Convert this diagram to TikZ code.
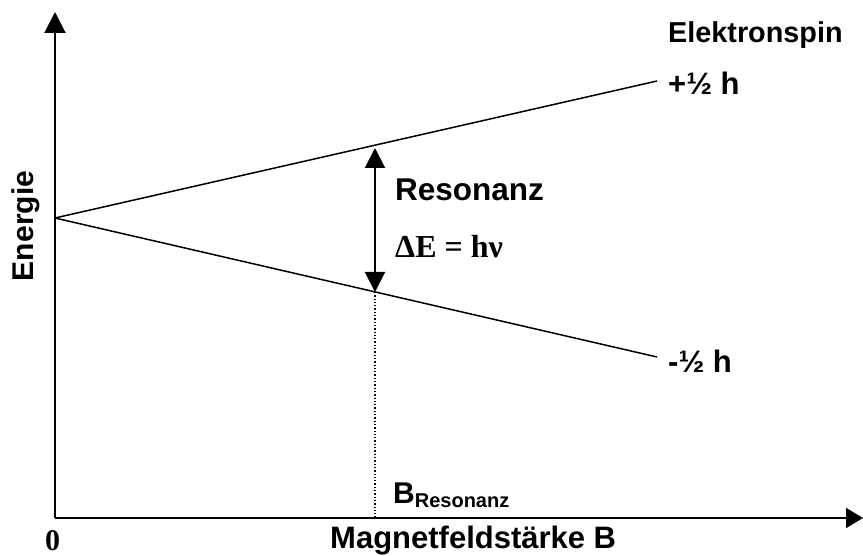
\documentclass[tikz,border=0pt]{standalone}
\usepackage{fontspec}
\setmainfont{Liberation Sans}
\newfontfamily\timesfont{Liberation Serif}
\usetikzlibrary{arrows.meta}
\begin{document}
\begin{tikzpicture}[x=1pt,y=-1pt,
  axis/.style={line width=2pt,-{Triangle[length=21pt,width=21pt]}},
  level/.style={line width=1.5pt},
  resarrow/.style={line width=2pt,{Triangle[length=20pt,width=20pt]}-{Triangle[length=20pt,width=20pt]}},
  guide/.style={line width=1.3pt,dotted},
  lbl/.style={inner sep=0pt,anchor=base west,font=\bfseries}]
\useasboundingbox (0,0) rectangle (863,556);
\coordinate (O) at (55,518);
\coordinate (Ytop) at (55,12);
\coordinate (Xend) at (863,518);
\coordinate (S) at (55,218);
\coordinate (U) at (657,81);
\coordinate (L) at (657,357);
\coordinate (A1) at (375,148);
\coordinate (A2) at (375,292);
\coordinate (D) at (375,518);
\draw[axis] (O) -- (Ytop);
\draw[axis,-{Triangle[length=17pt,width=20pt]}] (O) -- (Xend);
\draw[level] (S) -- (U);
\draw[level] (S) -- (L);
\draw[guide] (A2) -- (D);
\draw[resarrow] (A1) -- (A2);
\node[lbl,font=\bfseries\fontsize{28.8}{30}\selectfont] (el) at (668,43) {Elektronspin};
\node[lbl,font=\bfseries\fontsize{31}{34}\selectfont] (up) at (668,95) {+½ h};
\node[lbl,font=\bfseries\fontsize{31}{34}\selectfont] (dn) at (668,373) {-½ h};
\node[lbl,font=\bfseries\fontsize{31.5}{34}\selectfont] (res) at (395,201) {Resonanz};
\node[lbl,font=\timesfont\bfseries\fontsize{32}{34}\selectfont] (de) at (395,258) {ΔE = hν};
\node[lbl,font=\bfseries\fontsize{30}{32}\selectfont] (br) at (393,503) {B\raisebox{-4pt}{\fontsize{20}{22}\selectfont Resonanz}};
\node[lbl,font=\bfseries\fontsize{31}{33}\selectfont] (mb) at (330,548) {Magnetfeldstärke B};
\node[lbl,font=\timesfont\bfseries\fontsize{30}{32}\selectfont] (zero) at (45,550) {0};
\node[inner sep=0pt,anchor=base,rotate=90,font=\bfseries\fontsize{30}{32}\selectfont] (en) at (33,226) {Energie};
\end{tikzpicture}
\end{document}
